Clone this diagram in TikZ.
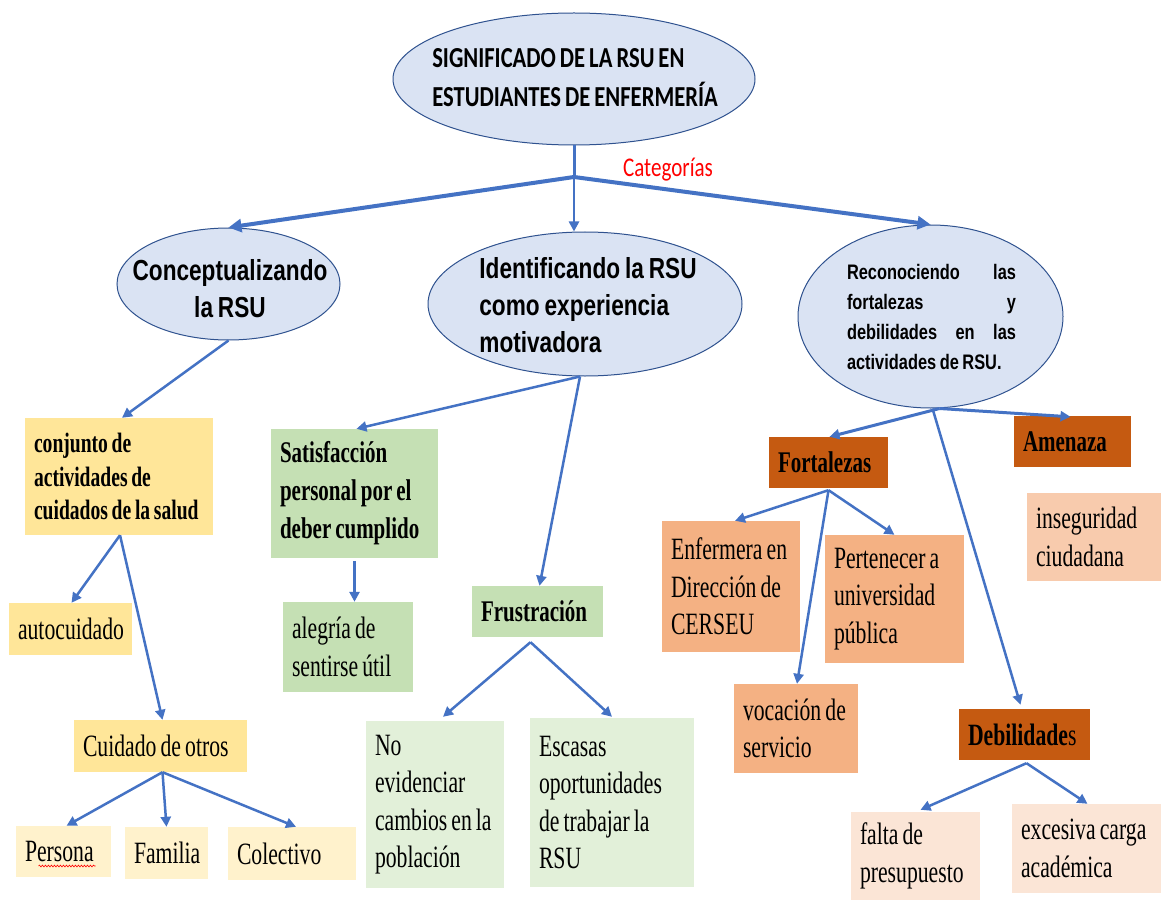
\documentclass[tikz,border=0pt]{standalone}
\usepackage{fontspec}
\usetikzlibrary{arrows.meta,shapes.geometric,decorations.pathmorphing,calc}
\newfontfamily\serifn[FakeStretch=0.7,WordSpace=0.75]{Liberation Serif}
\newfontfamily\sansn[FakeStretch=0.78,WordSpace=0.78]{Liberation Sans}
\newfontfamily\carn[FakeStretch=0.78,WordSpace=0.78]{Carlito}
\hyphenpenalty=10000
\exhyphenpenalty=10000
\definecolor{lineblue}{HTML}{4472C4}
\definecolor{ellfill}{HTML}{DAE3F3}
\definecolor{ellline}{HTML}{2F528F}
\definecolor{yel}{HTML}{FFE699}
\definecolor{yellt}{HTML}{FFF2CC}
\definecolor{grn}{HTML}{C5E0B4}
\definecolor{grnlt}{HTML}{E2F0D9}
\definecolor{ordk}{HTML}{C55A11}
\definecolor{ormd}{HTML}{F4B183}
\definecolor{orlt}{HTML}{F8CBAD}
\definecolor{orxl}{HTML}{FBE5D6}
\begin{document}
\begin{tikzpicture}[x=1pt,y=-1pt,
  ell/.style={ellipse,draw=ellline,line width=1pt,fill=ellfill,inner sep=0pt},
  bx/.style={rectangle,inner xsep=9pt,inner ysep=0pt,align=flush left,text=black,
    font={\serifn\fontsize{31}{37.5}\selectfont}},
  bxb/.style={bx,font={\serifn\bfseries\fontsize{30}{38}\selectfont}},
  conn/.style={draw=lineblue,line width=2.5pt,-{Triangle[length=10pt,width=10pt]}},
  thk/.style={draw=lineblue,line width=4pt,-{Triangle[length=13pt,width=13pt]}},
  elltxt/.style={font={\sansn\bfseries\fontsize{29}{37}\selectfont}}]
\fill[white] (0,0) rectangle (1161,901);
\useasboundingbox (0,0) rectangle (1161,901);

% ellipses
\node[ell,minimum width=362pt,minimum height=132pt] (top) at (574,79) {};
\node[font={\carn\bfseries\fontsize{29}{39}\selectfont},align=flush left] (ttop) at (575,78)
  {SIGNIFICADO DE LA RSU EN\\ESTUDIANTES DE ENFERMERÍA};
\node[ell,minimum width=223pt,minimum height=112pt] (c1) at (228.5,284) {};
\node[elltxt,align=flush center] (tc1) at (230,288.5) {Conceptualizando\\la RSU};
\node[ell,minimum width=314pt,minimum height=144pt] (c2) at (585,304) {};
\node[elltxt,align=flush left] (tc2) at (588,305) {Identificando la RSU\\como experiencia\\motivadora};
\node[ell,minimum width=265pt,minimum height=183pt] (c3) at (930.5,316.5) {};
\node[font={\sansn\bfseries\fontsize{21}{30.3}\selectfont},text width=169pt,align=justify,inner sep=0pt] (tc3) at (931.5,317)
  {Reconociendo las\linebreak fortalezas y\linebreak debilidades en las\linebreak actividades de RSU.};
\node[text=red,font={\carn\fontsize{27}{30}\selectfont}] (cat) at (668,170) {Categorías};

% boxes, left branch
\node[bxb,fill=yel,text width=170pt,minimum height=117pt,font={\serifn\bfseries\fontsize{28}{33.5}\selectfont}] (conj) at (119,476.5)
  {conjunto~de\\actividades~de\\cuidados~de~la~salud};
\node[bx,fill=yel,text width=105pt,minimum height=52pt] (auto) at (70.5,629) {autocuidado};
\node[bx,fill=yel,text width=155pt,minimum height=52pt] (cuid) at (160.5,746) {Cuidado~de~otros};
\node[bx,fill=yellt,text width=77pt,minimum height=51pt] (pers) at (63.5,851.5) {Persona};
\node[bx,fill=yellt,text width=65pt,minimum height=52pt] (fam) at (166.5,853) {Familia};
\node[bx,fill=yellt,text width=110pt,minimum height=53pt] (col) at (292,853.5) {Colectivo};

% middle branch
\node[bxb,fill=grn,text width=149pt,minimum height=129pt] (sat) at (354.5,493.5)
  {Satisfacción\\personal~por~el\\deber~cumplido};
\node[bx,fill=grn,text width=112pt,minimum height=90pt] (aleg) at (348,647) {alegría~de\\sentirse~útil};
\node[bxb,fill=grn,text width=113pt,minimum height=51pt] (frus) at (537.5,611.5) {Frustración};
\node[bx,fill=grnlt,text width=120pt,minimum height=167pt] (noev) at (435,804.5)
  {No\\evidenciar\\cambios~en~la\\población};
\node[bx,fill=grnlt,text width=146pt,minimum height=169pt] (esc) at (612,802.5)
  {Escasas\\oportunidades\\de~trabajar~la\\RSU};

% right branch
\node[bxb,fill=ordk,text width=101pt,minimum height=51pt] (fort) at (828.5,462.5) {Fortalezas};
\node[bxb,fill=ordk,text width=99pt,minimum height=51pt] (amen) at (1072.5,441.5) {Amenaza};
\node[bx,fill=orlt,text width=116pt,minimum height=88pt] (inseg) at (1094,537) {inseguridad\\ciudadana};
\node[bx,fill=ormd,text width=120pt,minimum height=131pt] (enf) at (731,586.5)
  {Enfermera~en\\Dirección~de\\CERSEU};
\node[bx,fill=ormd,text width=121pt,minimum height=128pt] (pert) at (894.5,599)
  {Pertenecer~a\\universidad\\pública};
\node[bx,fill=ormd,text width=106pt,minimum height=89pt] (voc) at (796,728.5) {vocación~de\\servicio};
\node[bx,fill=ordk,text width=113pt,minimum height=51pt] (deb) at (1024.5,734.5) {\textbf{Debilidade}s};
\node[bx,fill=orxl,text width=111pt,minimum height=88pt] (falta) at (915.5,856) {falta~de\\presupuesto};
\node[bx,fill=orxl,text width=131pt,minimum height=89pt] (exc) at (1086.5,848.5) {excesiva~carga\\académica};

% spell-check squiggle under Persona
\draw[red,line width=0.6pt,decorate,decoration={snake,amplitude=0.9pt,segment length=3pt}]
  ($(pers.center)+(-25,14.5)$) -- ($(pers.center)+(32,14.5)$);

% connectors
\coordinate (j) at (574,177);
\draw[lineblue,line width=3pt] (top.south) -- (j);
\draw[thk] (j) -- (c1.north);
\draw[conn] (j) -- ([xshift=-11pt]c2.north);
\draw[thk] (j) -- (c3.north);

\draw[conn] (c1.south) -- ([xshift=3pt]conj.north);
\draw[conn] ([xshift=1pt]conj.south) -- ([xshift=1pt]auto.north);
\draw[conn] ([xshift=1pt]conj.south) -- ([xshift=2pt]cuid.north);
\draw[conn] ([xshift=2pt]cuid.south) -- ([xshift=3pt]pers.north);
\draw[conn] ([xshift=2pt]cuid.south) -- (fam.north);
\draw[conn] ([xshift=2pt]cuid.south) -- ([xshift=4pt]col.north);

\draw[conn] ([xshift=-5pt]c2.south) -- ([xshift=2pt]sat.north);
\draw[conn] ([xshift=-5pt]c2.south) -- ([xshift=2pt]frus.north);
\draw[conn,shorten <=3pt] (sat.south) -- (sat.south |- aleg.north);
\draw[conn] ([xshift=-7pt,yshift=-5pt]frus.south) -- ([xshift=8pt,yshift=4pt]noev.north);
\draw[conn] ([xshift=-7pt,yshift=-5pt]frus.south) -- ([yshift=1pt]esc.north);

\draw[conn,line width=3pt] ([xshift=9pt]c3.south) -- ([xshift=1pt]fort.north);
\draw[conn,line width=3pt] ([xshift=9pt]c3.south) -- ([xshift=-2pt,yshift=-1pt]amen.north);
\draw[conn] ([xshift=2pt]c3.south) -- ([xshift=-4pt,yshift=4pt]deb.north);
\draw[conn] ([yshift=-2pt]fort.south) -- ([xshift=4pt]enf.north);
\draw[conn] ([yshift=-2pt]fort.south) -- (pert.north);
\draw[conn] ([yshift=-2pt]fort.south) -- ([xshift=1pt]voc.north);
\draw[conn] ([xshift=2pt,yshift=-3pt]deb.south) -- ([xshift=5pt,yshift=2pt]falta.north);
\draw[conn] ([xshift=2pt,yshift=-3pt]deb.south) -- ([xshift=1pt]exc.north);
\end{tikzpicture}
\end{document}
